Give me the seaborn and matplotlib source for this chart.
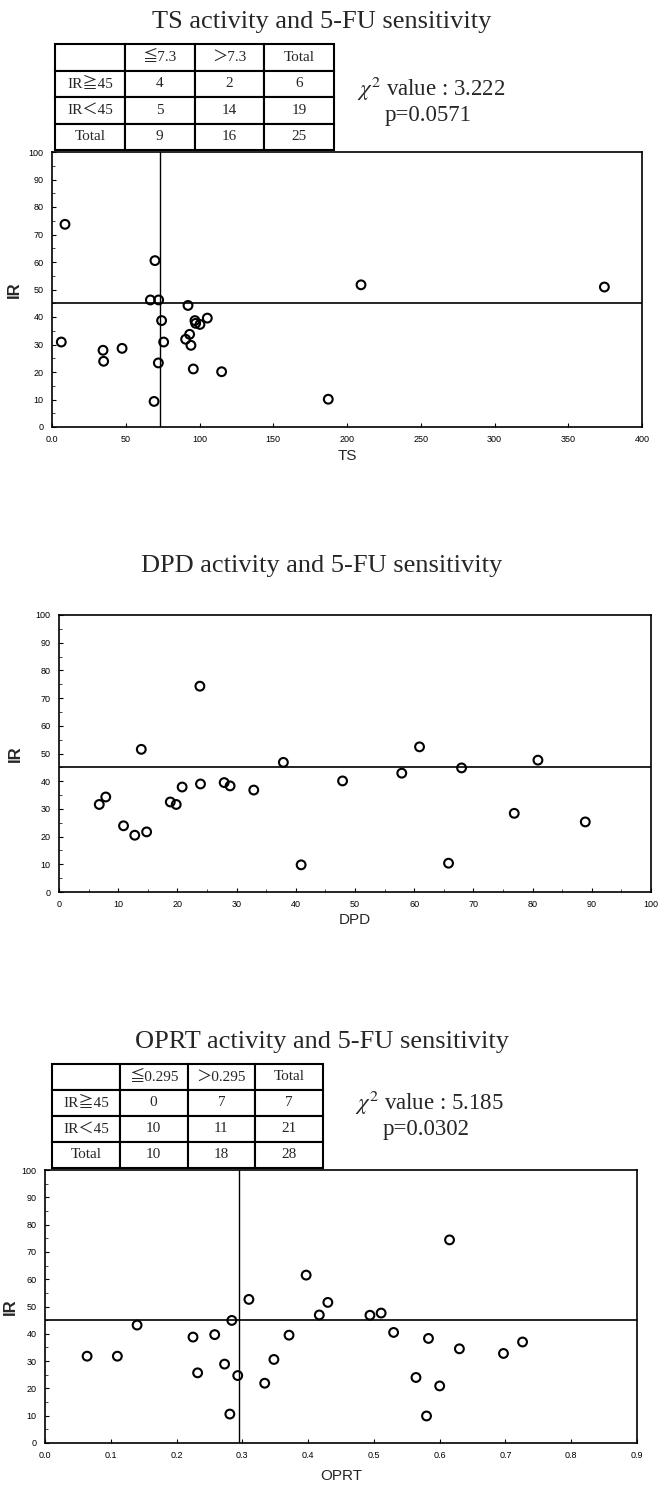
import matplotlib
matplotlib.use('Agg')
import matplotlib.pyplot as plt
import seaborn as sns
from matplotlib.ticker import MultipleLocator

# TS panel
ts_x = [8.8, 69.8, 66.7, 72.3, 92.2, 74.3, 105.3, 96.9, 97.4, 100.3, 6.3, 93.3, 90.6,
        75.7, 94.2, 34.6, 47.5, 35.0, 72.1, 95.8, 115.0, 69.2, 187.3, 209.5, 374.5]
ts_ir = [73.7, 60.5, 46.2, 46.2, 44.2, 38.7, 39.6, 38.7, 37.7, 37.3, 30.9, 33.7, 31.9,
         30.9, 29.7, 27.9, 28.6, 23.9, 23.3, 21.1, 20.1, 9.3, 10.1, 51.7, 50.9]
ts_cut = 73
ts_ticks = [0, 50, 100, 150, 200, 250, 300, 350, 400]
ts_ticklabels = ['0.0', '50', '100', '150', '200', '250', '300', '350', '400']
ts_table = [['', '≦7.3', '＞7.3', 'Total'],
            ['IR≧45', '4', '2', '6'],
            ['IR＜45', '5', '14', '19'],
            ['Total', '9', '16', '25']]
ts_chi = r'$\chi^{2}$ value : 3.222'
ts_p = 'p=0.0571'

# DPD panel
dpd_x = [6.8, 7.9, 10.9, 12.8, 14.8, 13.9, 23.8, 18.8, 19.8, 20.8, 23.9, 27.9, 28.9,
         32.9, 37.9, 40.9, 47.9, 57.9, 60.9, 68.0, 65.8, 76.9, 80.9, 88.9]
dpd_ir = [31.6, 34.3, 23.9, 20.5, 21.7, 51.5, 74.3, 32.5, 31.6, 37.9, 39.0, 39.5, 38.3,
          36.8, 46.8, 9.8, 40.1, 42.9, 52.4, 44.8, 10.4, 28.4, 47.6, 25.3]
dpd_ticks = [0, 10, 20, 30, 40, 50, 60, 70, 80, 90, 100]

# OPRT panel
oprt_x = [0.064, 0.110, 0.140, 0.225, 0.258, 0.232, 0.273, 0.284, 0.293, 0.281, 0.310,
          0.334, 0.348, 0.371, 0.397, 0.417, 0.430, 0.494, 0.511, 0.530, 0.583, 0.630,
          0.697, 0.726, 0.615, 0.564, 0.600, 0.580]
oprt_ir = [31.8, 31.8, 43.2, 38.8, 39.7, 25.7, 28.9, 44.9, 24.7, 10.6, 52.6, 21.9, 30.6,
           39.5, 61.5, 46.9, 51.5, 46.8, 47.6, 40.5, 38.3, 34.5, 32.8, 37.0, 74.4, 24.0,
           20.9, 9.9]
oprt_cut = 0.295
oprt_ticks = [0.0, 0.1, 0.2, 0.3, 0.4, 0.5, 0.6, 0.7, 0.8, 0.9]
oprt_table = [['', '≦0.295', '＞0.295', 'Total'],
              ['IR≧45', '0', '7', '7'],
              ['IR＜45', '10', '11', '21'],
              ['Total', '10', '18', '28']]
oprt_chi = r'$\chi^{2}$ value : 5.185'
oprt_p = 'p=0.0302'

ir_ticks = [0, 10, 20, 30, 40, 50, 60, 70, 80, 90, 100]
ir_cut = 45

sns.set_style('white')
plt.rcParams['font.family'] = ['Liberation Sans', 'DejaVu Sans']
plt.rcParams['mathtext.fontset'] = 'stix'

W, H = 659, 1488
fig = plt.figure(figsize=(W / 100, H / 100), dpi=100)
serif = ['Liberation Serif', 'Noto Sans CJK JP', 'DejaVu Serif']


def px_axes(left, top, right, bottom):
    return fig.add_axes([left / W, 1 - bottom / H, (right - left) / W, (bottom - top) / H])


def scatter_panel(ax, x, y, xlim, xticks, xlabel, left, right, label_x,
                  xticklabels=None, vcut=None, xminor=None, xlabelpad=4):
    sns.scatterplot(x=x, y=y, ax=ax, s=40, facecolors='none', edgecolor='black',
                    linewidth=1.5, marker='o', zorder=3)
    ax.axhline(ir_cut, color='black', lw=1.2, zorder=2)
    if vcut is not None:
        ax.axvline(vcut, color='black', lw=1.0, zorder=2)
    ax.set_xlim(*xlim)
    ax.set_ylim(0, 100)
    ax.set_xticks(xticks)
    if xticklabels is not None:
        ax.set_xticklabels(xticklabels)
    ax.set_yticks(ir_ticks)
    ax.yaxis.set_minor_locator(MultipleLocator(5))
    if xminor is not None:
        ax.xaxis.set_minor_locator(MultipleLocator(xminor))
    ax.tick_params(axis='both', which='major', labelsize=6.5, direction='in',
                   length=3, width=0.8, pad=6, colors='black', bottom=True, left=True)
    ax.tick_params(axis='both', which='minor', direction='in', length=2, width=0.6,
                   bottom=True, left=True)
    for sp in ax.spines.values():
        sp.set_color('black')
        sp.set_linewidth(1.2)
    ax.set_xlabel(xlabel, fontsize=11, labelpad=xlabelpad)
    ax.set_ylabel('IR', fontsize=12, fontweight='bold')
    ax.yaxis.set_label_coords((label_x - left) / (right - left), 0.5)


def draw_table(left, top, right, bottom, cells):
    tax = px_axes(left, top, right, bottom)
    tax.axis('off')
    tb = tax.table(cellText=cells, bbox=[0, 0, 1, 1], cellLoc='center')
    tb.auto_set_font_size(False)
    for (r, c), cell in tb.get_celld().items():
        cell.set_linewidth(1.5)
        cell.set_edgecolor('black')
        cell.get_text().set_fontsize(11)
        cell.get_text().set_fontfamily(serif)


# top panel
fig.text(322 / W, 1 - 22 / H, 'TS activity and 5-FU sensitivity', ha='center',
         va='center', fontsize=19, family=serif)
draw_table(55, 44, 334, 150, ts_table)
fig.text(357 / W, 1 - 89 / H, ts_chi, ha='left', va='center', fontsize=16.5, family=serif)
fig.text(385 / W, 1 - 115 / H, ts_p, ha='left', va='center', fontsize=16.5, family=serif)
ax1 = px_axes(52, 152, 642, 427)
scatter_panel(ax1, ts_x, ts_ir, (0, 400), ts_ticks, 'TS', 52, 642, 22,
              ts_ticklabels, vcut=ts_cut, xlabelpad=3)

# middle panel
fig.text(322 / W, 1 - 566 / H, 'DPD activity and 5-FU sensitivity', ha='center',
         va='center', fontsize=19, family=serif)
ax2 = px_axes(59, 615, 651, 892)
scatter_panel(ax2, dpd_x, dpd_ir, (0, 100), dpd_ticks, 'DPD', 59, 651, 23,
              xminor=5, xlabelpad=3)

# bottom panel
fig.text(322 / W, 1 - 1042 / H, 'OPRT activity and 5-FU sensitivity', ha='center',
         va='center', fontsize=19, family=serif)
draw_table(52, 1064, 323, 1168, oprt_table)
fig.text(355 / W, 1 - 1103 / H, oprt_chi, ha='left', va='center', fontsize=16.5, family=serif)
fig.text(383 / W, 1 - 1129 / H, oprt_p, ha='left', va='center', fontsize=16.5, family=serif)
ax3 = px_axes(45, 1170, 637, 1443)
scatter_panel(ax3, oprt_x, oprt_ir, (0, 0.9), oprt_ticks, 'OPRT', 45, 637, 18,
              [f'{t:.1f}' for t in oprt_ticks], vcut=oprt_cut, xlabelpad=6)

fig.savefig('out.png', dpi=100, facecolor='white')
